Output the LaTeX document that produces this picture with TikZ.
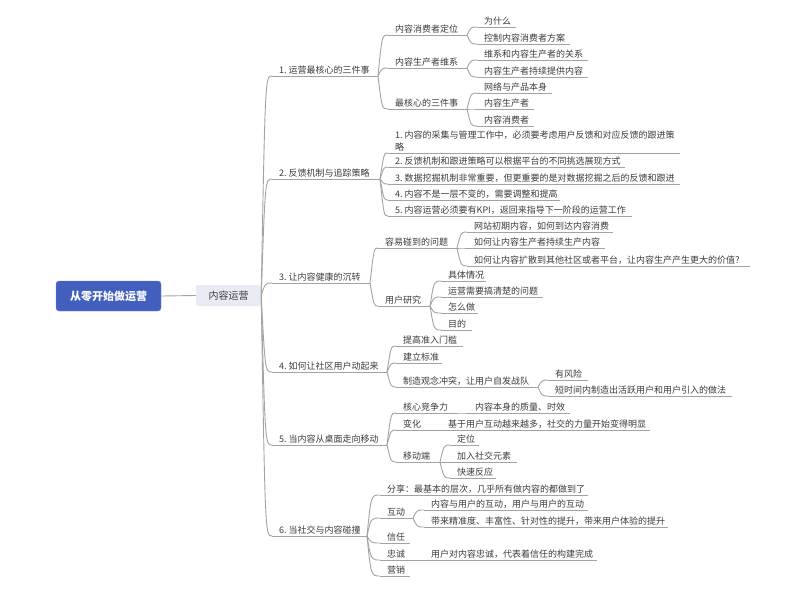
\documentclass[tikz,border=0pt]{standalone}
\usepackage{fontspec}
\setmainfont{Noto Sans CJK SC}
\usetikzlibrary{calc}
\definecolor{ln}{HTML}{A3A3A3}
\definecolor{txt}{HTML}{3C3C3C}
\definecolor{rootblue}{HTML}{425FBE}
\definecolor{midfill}{HTML}{E9EBF4}
\newcommand\mmt[5]{%
  \coordinate (s#1) at (#2,#4);
  \coordinate (e#1) at (#3,#4);
  \draw[ln] (s#1) -- (e#1);
  \node[topic] (#1) at (s#1) {#5};}
\newcommand\mmc[2]{\draw[ln] (e#1) .. controls ($(e#1 |- s#2)+(4,0)$) .. (s#2);}
\newcommand\nsp{\kern2pt}
\begin{document}
\begin{tikzpicture}[x={(1pt,0)}, y={(0,-1pt)},
  font=\fontsize{9}{11.5}\selectfont,
  ln/.style={draw=ln, line width=0.9pt},
  topic/.style={anchor=base west, inner sep=0pt, xshift=7pt, yshift=3pt, text=txt},
  rootbox/.style={fill=rootblue, draw=rootblue!70!white, rounded corners=3pt, minimum width=105pt, minimum height=30pt, text=white, font=\fontsize{11}{13}\selectfont\bfseries},
  midbox/.style={fill=midfill, rounded corners=2pt, minimum width=65pt, minimum height=21pt, text=txt, font=\fontsize{10}{12}\selectfont}]
\useasboundingbox[fill=white] (0,0) rectangle (800,598);
\node[rootbox] (root) at (108.5,296) {从零开始做运营};
\node[midbox] (mid) at (228.5,295.5) {内容运营};
\coordinate (emid) at (mid.east);
\draw[ln] (root.east) -- (mid.west);
% level 1
\mmt{A}{272}{378}{76}{1.\nsp 运营最核心的三件事}
\mmt{B}{272}{380}{179}{2.\nsp 反馈机制与追踪策略}
\mmt{C}{272}{370}{283}{3.\nsp 让内容健康的沉转}
\mmt{D}{272}{387}{372}{4.\nsp 如何让社区用户动起来}
\mmt{E}{272}{387}{445}{5.\nsp 当内容从桌面走向移动}
\mmt{F}{272}{367}{536}{6.\nsp 当社交与内容碰撞}
\foreach \c in {A,B,C,D,E,F}{\mmc{mid}{\c}}
% A
\mmt{A1}{388}{467}{35}{内容消费者定位}
\mmt{A2}{388}{467}{68}{内容生产者维系}
\mmt{A3}{388}{467}{109}{最核心的三件事}
\foreach \c in {A1,A2,A3}{\mmc{A}{\c}}
\mmt{A11}{477}{516}{27}{为什么}
\mmt{A12}{477}{570}{44}{控制内容消费者方案}
\mmc{A1}{A11}\mmc{A1}{A12}
\mmt{A21}{477}{588}{60}{维系和内容生产者的关系}
\mmt{A22}{477}{588}{77}{内容生产者持续提供内容}
\mmc{A2}{A21}\mmc{A2}{A22}
\mmt{A31}{477}{552}{93}{网络与产品本身}
\mmt{A32}{477}{534}{109}{内容生产者}
\mmt{A33}{477}{534}{126}{内容消费者}
\mmc{A3}{A31}\mmc{A3}{A32}\mmc{A3}{A33}
% B
\coordinate (sB1) at (388,153);
\coordinate (eB1) at (680,153);
\draw[ln] (sB1) -- (eB1);
\node[anchor=south west, inner sep=0pt, xshift=7pt, yshift=2pt, text=txt, align=left] (B1) at (sB1) {1.\nsp 内容的采集与管理工作中，必须要考虑用户反馈和对应反馈的跟进策\\略};
\mmt{B2}{388}{625}{167}{2.\nsp 反馈机制和跟进策略可以根据平台的不同挑选展现方式}
\mmt{B3}{388}{680}{184}{3.\nsp 数据挖掘机制非常重要，但更重要的是对数据挖掘之后的反馈和跟进}
\mmt{B4}{388}{560}{200}{4.\nsp 内容不是一层不变的，需要调整和提高}
\mmt{B5}{388}{632}{216}{5.\nsp 内容运营必须要有KPI，返回来指导下一阶段的运营工作}
\foreach \c in {B1,B2,B3,B4,B5}{\mmc{B}{\c}}
% C
\mmt{C1}{378}{457}{248}{容易碰到的问题}
\mmt{C2}{378}{430}{306}{用户研究}
\mmc{C}{C1}\mmc{C}{C2}
\mmt{C11}{467}{613}{232}{网站初期内容，如何到达内容消费}
\mmt{C12}{467}{605}{248}{如何让内容生产者持续生产内容}
\mmt{C13}{467}{750}{266}{如何让内容扩散到其他社区或者平台，让内容生产产生更大的价值？}
\foreach \c in {C11,C12,C13}{\mmc{C1}{\c}}
\mmt{C21}{441}{486}{281}{具体情况}
\mmt{C22}{441}{543}{297}{运营需要搞清楚的问题}
\mmt{C23}{441}{478}{313}{怎么做}
\mmt{C24}{441}{472}{330}{目的}
\foreach \c in {C21,C22,C23,C24}{\mmc{C2}{\c}}
% D
\mmt{D1}{396}{463}{346}{提高准入门槛}
\mmt{D2}{396}{442}{363}{建立标准}
\mmt{D3}{396}{538}{387}{制造观念冲突，让用户自发战队}
\foreach \c in {D1,D2,D3}{\mmc{D}{\c}}
\mmt{D31}{548}{588}{380}{有风险}
\mmt{D32}{548}{732}{396}{短时间内制造出活跃用户和用户引入的做法}
\mmc{D3}{D31}\mmc{D3}{D32}
% E
\mmt{E1}{396}{455}{413}{核心竞争力}
\mmt{E2}{396}{430}{430}{变化}
\mmt{E3}{396}{440}{462}{移动端}
\foreach \c in {E1,E2,E3}{\mmc{E}{\c}}
\mmt{E11}{468}{570}{413}{内容本身的质量、时效}
\mmc{E1}{E11}
\mmt{E21}{441}{650}{430}{基于用户互动越来越多，社交的力量开始变得明显}
\mmc{E2}{E21}
\mmt{E31}{450}{479}{445}{定位}
\mmt{E32}{450}{517}{462}{加入社交元素}
\mmt{E33}{450}{496}{478}{快速反应}
\foreach \c in {E31,E32,E33}{\mmc{E3}{\c}}
% F
\mmt{F1}{380}{588}{495}{分享：最基本的层次，几乎所有做内容的都做到了}
\mmt{F2}{380}{413}{518}{互动}
\mmt{F3}{380}{410}{543}{信任}
\mmt{F4}{380}{410}{560}{忠诚}
\mmt{F5}{380}{410}{576}{营销}
\foreach \c in {F1,F2,F3,F4,F5}{\mmc{F}{\c}}
\mmt{F21}{424}{588}{510}{内容与用户的互动，用户与用户的互动}
\mmt{F22}{424}{668}{527}{带来精准度、丰富性、针对性的提升，带来用户体验的提升}
\mmc{F2}{F21}\mmc{F2}{F22}
\mmt{F41}{424}{597}{560}{用户对内容忠诚，代表着信任的构建完成}
\mmc{F4}{F41}
\end{tikzpicture}
\end{document}
